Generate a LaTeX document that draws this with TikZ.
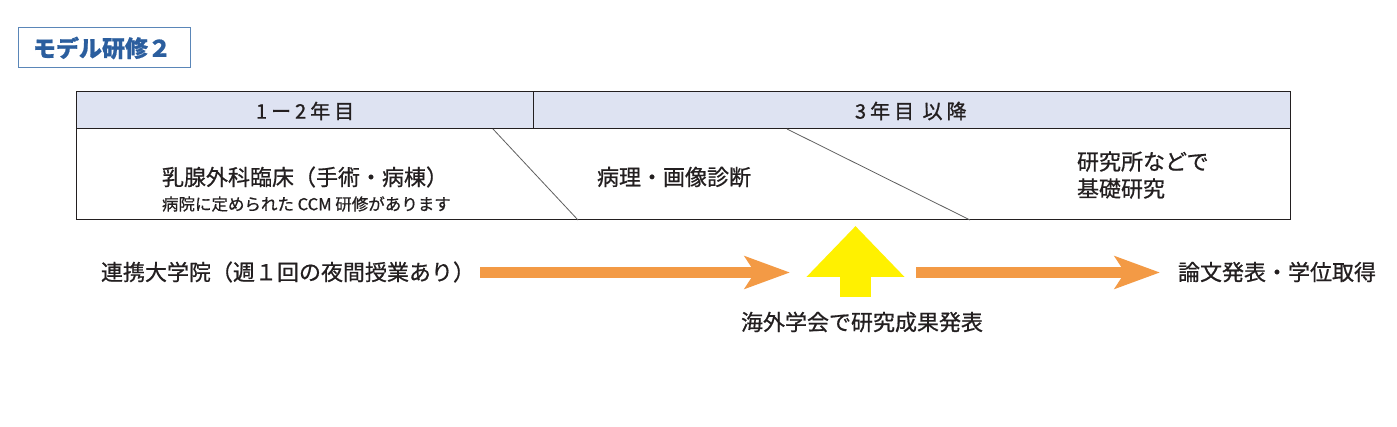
\documentclass[tikz,border=0pt]{standalone}
\usepackage{fontspec}
\setmainfont{Noto Sans CJK JP}[FakeBold=0.7]
\newfontfamily\hdrfont{Noto Sans CJK JP}[LetterSpace=20,FakeBold=1.1]
\usetikzlibrary{arrows.meta}
\definecolor{txt}{HTML}{231F20}
\definecolor{ttl}{HTML}{2B5E9E}
\definecolor{ttlbox}{HTML}{5A86B8}
\definecolor{hdr}{HTML}{DEE3F2}
\definecolor{orng}{HTML}{F39A45}
\definecolor{yel}{HTML}{FFF100}
\definecolor{diag}{HTML}{606060}
\tikzset{
  x=1pt,y=-1pt,
  every node/.style={inner sep=0pt,outer sep=0pt,text=txt},
  cell/.style={draw=txt,line width=1pt,anchor=north west},
  hdrcell/.style={cell,fill=hdr},
  big/.style={font=\fontsize{22}{27}\selectfont},
  hdrtxt/.style={font=\hdrfont\fontsize{20}{24}\selectfont},
  small/.style={font=\fontsize{16.5}{20}\selectfont},
  orarrow/.style={draw=orng,line width=11pt,-{Stealth[length=45pt,width=32pt,inset=10pt]}},
  yelarrow/.style={draw=yel,line width=31pt,-{Triangle[length=51pt,width=95pt]}},
  diagline/.style={draw=diag,line width=0.8pt}
}
\begin{document}
\begin{tikzpicture}
\useasboundingbox[fill=white] (0,0) rectangle (1397,427);
% title
\node[draw=ttlbox,line width=1pt,minimum width=172pt,minimum height=40pt,anchor=north west] (title) at (18,28) {};
\node[font=\fontsize{23}{27}\selectfont\bfseries,text=ttl] (titlet) at (102,48) {モデル研修２};
% table
\node[cell,minimum width=1214pt,minimum height=91pt] (body) at (76,129) {};
\node[hdrcell,minimum width=457pt,minimum height=37pt] (h1) at (76,92) {};
\node[hdrcell,minimum width=757pt,minimum height=37pt] (h2) at (533,92) {};
\node[hdrtxt,anchor=west] (h1t) at (256,111) {1ー2年目};
\node[hdrtxt,anchor=west] (h2t) at (855,111) {3年目 以降};
% diagonal separators
\coordinate (d1a) at (493,129);
\coordinate (d1b) at (578,220);
\coordinate (d2a) at (787,129);
\coordinate (d2b) at (970,220);
\draw[diagline] (d1a) -- (d1b);
\draw[diagline] (d2a) -- (d2b);
% body texts
\node[big,anchor=west] (c1) at (162,177) {乳腺外科臨床（手術・病棟）};
\node[small,anchor=west] (c1s) at (162,204) {病院に定められた CCM 研修があります};
\node[big,anchor=west] (c2) at (597,177) {病理・画像診断};
\node[big,anchor=west,align=left] (c3) at (1077,175) {研究所などで\\基礎研究};
% bottom row
\node[big,anchor=west] (grad) at (101,272) {連携大学院（週１回の夜間授業あり）};
\node[big,anchor=west] (thesis) at (1178,272) {論文発表・学位取得};
\node[big] (conf) at (862,322) {海外学会で研究成果発表};
\coordinate (a1s) at (480,272.5);
\coordinate (a1e) at (790,272.5);
\coordinate (a2s) at (916,272.5);
\coordinate (a2e) at (1160,272.5);
\coordinate (ys) at (855.5,297);
\coordinate (ye) at (855.5,226);
\draw[orarrow] (a1s) -- (a1e);
\draw[orarrow] (a2s) -- (a2e);
\draw[yelarrow] (ys) -- (ye);
\end{tikzpicture}
\end{document}
